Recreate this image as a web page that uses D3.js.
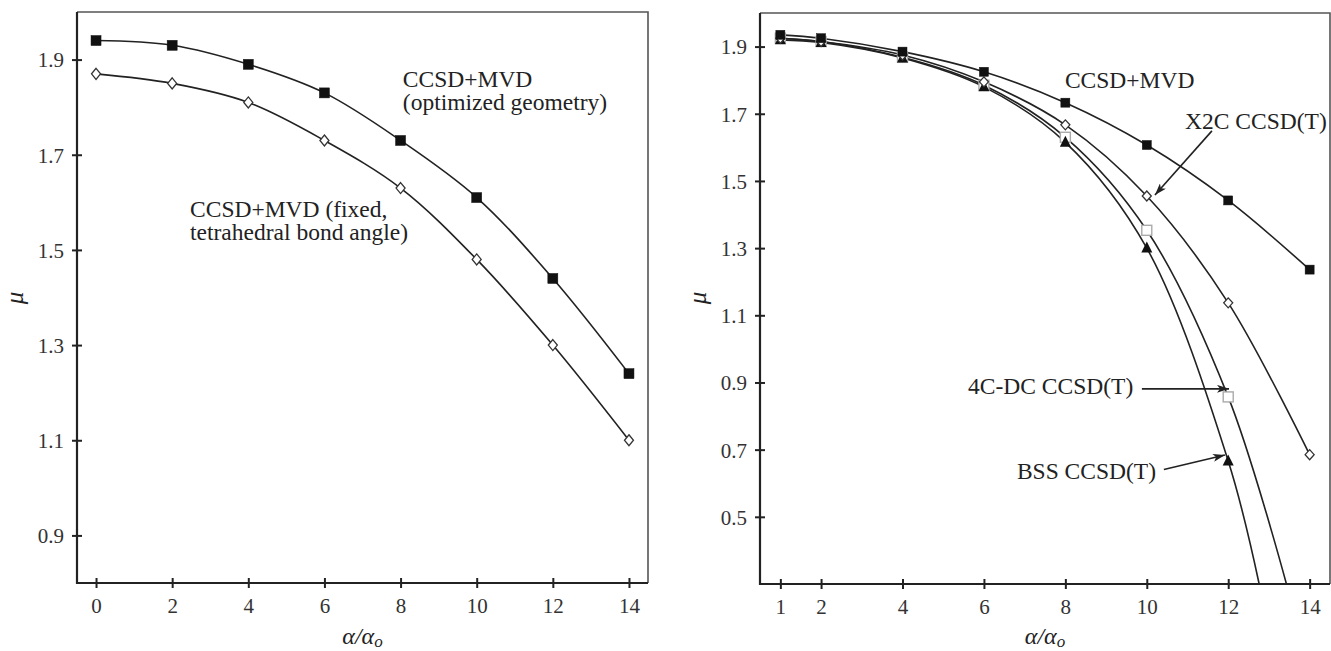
<!DOCTYPE html>
<html>
<head>
<meta charset="utf-8">
<script src="https://cdn.jsdelivr.net/npm/d3@7"></script>
<style>
  html, body { margin: 0; padding: 0; background: #fff; }
  svg { display: block; }
  text { font-family: "Liberation Serif", "Times New Roman", "DejaVu Serif", serif; fill: #222; }
</style>
</head>
<body>
<svg id="chart" width="1331" height="651"></svg>
<script>
// ---------------- DATA ----------------
// Left panel
const leftX = [0, 2, 4, 6, 8, 10, 12, 14];
const leftOptimized = [1.94, 1.93, 1.89, 1.83, 1.73, 1.61, 1.44, 1.24];
const leftFixed = [1.87, 1.85, 1.81, 1.73, 1.63, 1.48, 1.30, 1.10];
const leftXTicks = [0, 2, 4, 6, 8, 10, 12, 14];
const leftYTicks = [0.9, 1.1, 1.3, 1.5, 1.7, 1.9];

// Right panel
const rightX = [1, 2, 4, 6, 8, 10, 12, 14];
const rightMVD = [1.935, 1.925, 1.885, 1.825, 1.733, 1.607, 1.442, 1.236];
const rightX2C = [1.925, 1.915, 1.875, 1.795, 1.667, 1.455, 1.137, 0.685];
const right4CX = [1, 2, 4, 6, 8, 10, 12];
const right4C = [1.925, 1.915, 1.868, 1.785, 1.630, 1.353, 0.857];
const rightBSSX = [1, 2, 4, 6, 8, 10, 12];
const rightBSS = [1.920, 1.912, 1.866, 1.780, 1.615, 1.300, 0.666];
// where the fitted curves leave the plot
const tail4C = [13.43, 0.30];
const tailBSS = [12.76, 0.30];
const rightXTicks = [1, 2, 4, 6, 8, 10, 12, 14];
const rightYTicks = [0.5, 0.7, 0.9, 1.1, 1.3, 1.5, 1.7, 1.9];

// ---------------- LAYOUT ----------------
const svg = d3.select("#chart");
const INK = "#222";
const SERIF = '"Liberation Serif", "Times New Roman", serif';

const panels = [
  { id: "L", x0: 77, x1: 648, y0: 12, y1: 583, xDom: [-0.5, 14.5], yDom: [0.8, 2.0], xt: leftXTicks, yt: leftYTicks },
  { id: "R", x0: 760, x1: 1330, y0: 13, y1: 584, xDom: [0.5, 14.5], yDom: [0.3, 2.0], xt: rightXTicks, yt: rightYTicks }
];

const defs = svg.append("defs");
defs.append("marker").attr("id", "arrow")
  .attr("viewBox", "0 0 12 8").attr("refX", 12).attr("refY", 4)
  .attr("markerWidth", 12).attr("markerHeight", 8).attr("markerUnits", "userSpaceOnUse")
  .attr("orient", "auto")
  .append("path").attr("d", "M0,0 L12,4 L0,8 L3,4 Z").attr("fill", INK);

panels.forEach(p => {
  p.x = d3.scaleLinear().domain(p.xDom).range([p.x0, p.x1]);
  p.y = d3.scaleLinear().domain(p.yDom).range([p.y1, p.y0]);
  const g = svg.append("g");
  p.g = g;
  defs.append("clipPath").attr("id", "clip" + p.id)
    .append("rect").attr("x", p.x0).attr("y", p.y0).attr("width", p.x1 - p.x0).attr("height", p.y1 - p.y0);

  // frame top/right
  g.append("path")
    .attr("d", `M${p.x0},${p.y0} H${p.x1} V${p.y1}`)
    .attr("fill", "none").attr("stroke", "#555").attr("stroke-width", 1.6);

  // x axis
  const xAxis = d3.axisBottom(p.x).tickValues(p.xt).tickFormat(d3.format("d")).tickSize(0).tickPadding(0);
  const gx = g.append("g").attr("transform", `translate(0,${p.y1})`).call(xAxis)
    .attr("font-family", SERIF);
  gx.select(".domain").remove();
  gx.selectAll("text").attr("y", 30).attr("dy", 0).style("font-size", "21px").style("fill", "#333");
  gx.selectAll(".tick").append("line").attr("y1", -5).attr("y2", 5).attr("stroke", INK).attr("stroke-width", 2);

  // y axis
  const yAxis = d3.axisLeft(p.y).tickValues(p.yt).tickFormat(d3.format(".1f")).tickSize(0).tickPadding(0);
  const gy = g.append("g").attr("transform", `translate(${p.x0},0)`).call(yAxis)
    .attr("font-family", SERIF);
  gy.select(".domain").remove();
  gy.selectAll("text").attr("x", -13).attr("dy", "0.35em").style("font-size", "21px").style("fill", "#333");
  gy.selectAll(".tick").append("line").attr("x1", -5).attr("x2", 5).attr("stroke", INK).attr("stroke-width", 2);

  // axis lines
  g.append("path").attr("d", `M${p.x0},${p.y0} V${p.y1} H${p.x1}`)
    .attr("fill", "none").attr("stroke", INK).attr("stroke-width", 2.2);

  // axis titles
  const mx = (p.x0 + p.x1) / 2;
  const t = g.append("text").attr("x", mx).attr("y", 644).attr("text-anchor", "middle")
    .style("font-size", "24px").style("font-style", "italic");
  t.append("tspan").text("α/α");
  t.append("tspan").attr("dy", 3).style("font-size", "17px").text("o");

  g.append("text").attr("transform", `translate(${p.x0 - 54},298) rotate(-90)`)
    .attr("text-anchor", "middle").style("font-size", "25px").style("font-style", "italic").text("μ");
});

const curve = d3.curveCatmullRom.alpha(0.5);

function drawLine(p, pts, width) {
  p.g.append("path").datum(pts)
    .attr("clip-path", `url(#clip${p.id})`)
    .attr("fill", "none").attr("stroke", INK).attr("stroke-width", width || 1.6)
    .attr("d", d3.line().x(d => p.x(d[0])).y(d => p.y(d[1])).curve(curve));
}
function zip(xs, ys) { return xs.map((x, i) => [x, ys[i]]); }

function squares(p, pts, size, fill, stroke) {
  p.g.selectAll(null).data(pts).enter().append("rect")
    .attr("x", d => p.x(d[0]) - size / 2).attr("y", d => p.y(d[1]) - size / 2)
    .attr("width", size).attr("height", size)
    .attr("fill", fill).attr("stroke", stroke).attr("stroke-width", fill === "#fff" ? 1.4 : 0.5);
}
function diamonds(p, pts, w, h) {
  p.g.selectAll(null).data(pts).enter().append("path")
    .attr("transform", d => `translate(${p.x(d[0])},${p.y(d[1])})`)
    .attr("d", `M0,${-h / 2} L${w / 2},0 L0,${h / 2} L${-w / 2},0 Z`)
    .attr("fill", "#fff").attr("stroke", "#333").attr("stroke-width", 1.3);
}
function triangles(p, pts, s) {
  p.g.selectAll(null).data(pts).enter().append("path")
    .attr("transform", d => `translate(${p.x(d[0])},${p.y(d[1])})`)
    .attr("d", `M0,${-s * 0.6} L${s / 2},${s * 0.4} L${-s / 2},${s * 0.4} Z`)
    .attr("fill", "#111");
}

// ---------------- LEFT PANEL ----------------
const L = panels[0];
const lOpt = zip(leftX, leftOptimized);
const lFix = zip(leftX, leftFixed);
drawLine(L, lOpt);
drawLine(L, lFix);
diamonds(L, lFix, 9, 11);
squares(L, lOpt, 10, "#111", "#111");

// ---------------- RIGHT PANEL ----------------
const R = panels[1];
const rMVD = zip(rightX, rightMVD);
const rX2C = zip(rightX, rightX2C);
const r4C = zip(right4CX, right4C);
const rBSS = zip(rightBSSX, rightBSS);
drawLine(R, rMVD);
drawLine(R, rX2C);
drawLine(R, r4C.concat([tail4C]));
drawLine(R, rBSS.concat([tailBSS]));
squares(R, r4C, 10, "#fff", "#aaa");
triangles(R, rBSS, 11);
diamonds(R, rX2C, 9, 10);
squares(R, rMVD, 9, "#111", "#111");

// ---------------- ANNOTATIONS ----------------
function label(p, lines, x, y, lh) {
  lines.forEach((s, i) => {
    p.g.append("text").attr("x", p.x(x)).attr("y", p.y(y) + i * lh)
      .style("font-size", "23.5px").text(s);
  });
}
function arrow(p, from, to) {
  p.g.append("line")
    .attr("x1", p.x(from[0])).attr("y1", p.y(from[1]))
    .attr("x2", p.x(to[0])).attr("y2", p.y(to[1]))
    .attr("stroke", INK).attr("stroke-width", 1.6).attr("marker-end", "url(#arrow)");
}

label(L, ["CCSD+MVD", "(optimized geometry)"], 8.06, 1.842, 23);
label(L, ["CCSD+MVD (fixed,", "tetrahedral bond angle)"], 2.47, 1.569, 23);

label(R, ["CCSD+MVD"], 7.99, 1.777, 23);
label(R, ["X2C CCSD(T)"], 10.94, 1.655, 23);
arrow(R, [11.60, 1.649], [10.20, 1.458]);
label(R, ["4C-DC CCSD(T)"], 5.61, 0.866, 23);
arrow(R, [9.88, 0.881], [12.02, 0.881]);
label(R, ["BSS CCSD(T)"], 6.81, 0.613, 23);
arrow(R, [10.42, 0.641], [11.92, 0.684]);
</script>
</body>
</html>
